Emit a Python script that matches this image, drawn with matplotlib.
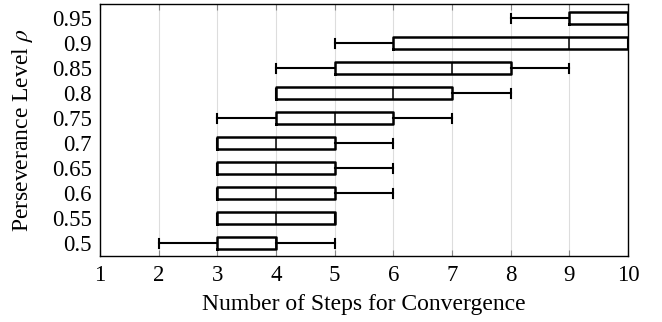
import matplotlib
matplotlib.use("Agg")
import matplotlib.pyplot as plt

plt.rcParams['font.family'] = ['Liberation Serif', 'DejaVu Serif']
plt.rcParams['mathtext.fontset'] = 'stix'

levels = ['0.5', '0.55', '0.6', '0.65', '0.7', '0.75', '0.8', '0.85', '0.9', '0.95']
whislo = [2, 3, 3, 3, 3, 3, 4, 4, 5, 8]
q1 = [3, 3, 3, 3, 3, 4, 4, 5, 6, 9]
med = [4, 4, 4, 4, 4, 5, 6, 7, 9, 10]
q3 = [4, 5, 5, 5, 5, 6, 7, 8, 10, 10]
whishi = [5, 5, 6, 6, 6, 7, 8, 9, 10, 10]

stats = []
for i, lab in enumerate(levels):
    stats.append(dict(label=lab, whislo=whislo[i], q1=q1[i], med=med[i],
                      q3=q3[i], whishi=whishi[i], fliers=[]))

fig = plt.figure(figsize=(6.62, 3.22), dpi=100)
ax = fig.add_axes([100 / 662, 1 - 256 / 322, 528 / 662, 252 / 322])

ax.bxp(stats, vert=False, widths=0.48, showfliers=False,
       boxprops=dict(color='black', linewidth=1.8),
       whiskerprops=dict(color='black', linewidth=1.5),
       capprops=dict(color='black', linewidth=1.5),
       medianprops=dict(color='black', linewidth=1.1),
       capwidths=0.36, zorder=3)

ax.set_xlim(1, 10)
ax.set_ylim(0.48, 10.56)
ax.set_xticks(range(1, 11))
ax.grid(axis='x', color='#dddddd', linewidth=0.8, zorder=0)
ax.set_axisbelow(True)
ax.tick_params(axis='x', direction='in', top=True, length=4, color='#888888',
               labelsize=16.5, pad=6.5)
ax.tick_params(axis='y', length=0, labelsize=16.5, pad=6)
for s in ax.spines.values():
    s.set_linewidth(1.0)

ax.set_xlabel('Number of Steps for Convergence', fontsize=17, labelpad=6)
ax.set_ylabel(r'Perseverance Level $\rho$', fontsize=17, labelpad=12)

fig.savefig('out.png', dpi=100)
